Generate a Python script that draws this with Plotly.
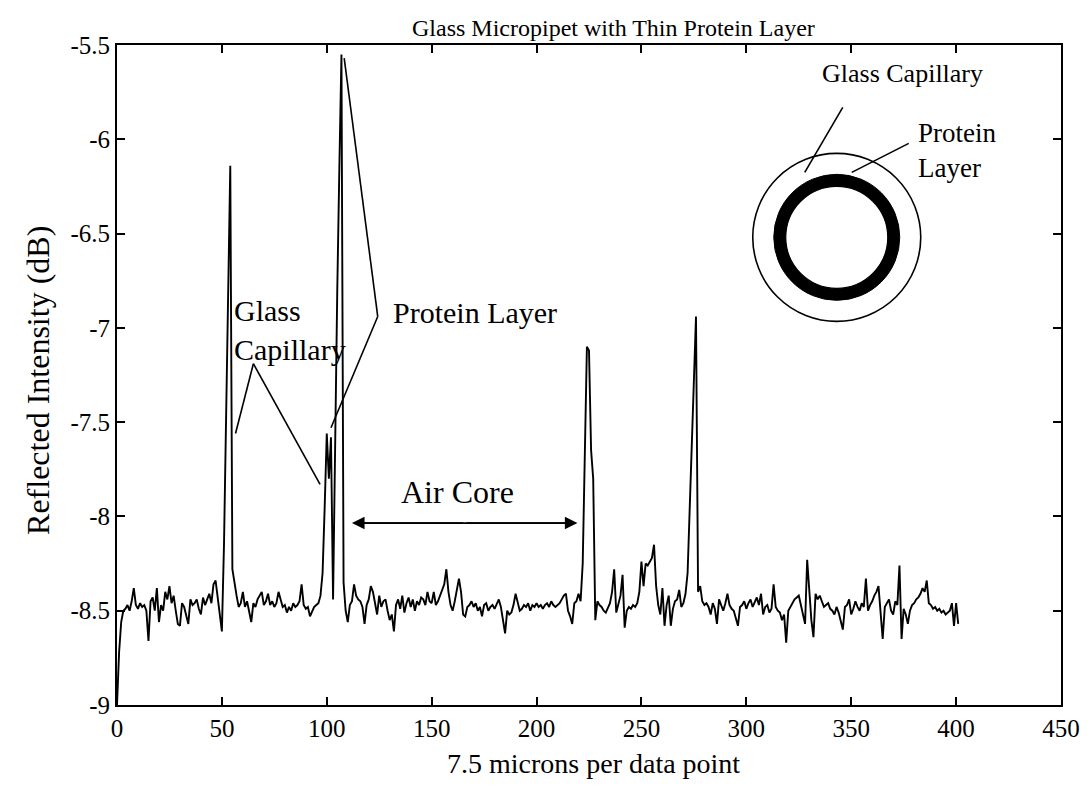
import plotly.graph_objects as go

# Reflected intensity (dB) for each data point (7.5 microns per point), index 0..401
intensity_db = [
    -9.00, -8.72, -8.56, -8.50, -8.49, -8.47, -8.50, -8.45, -8.38, -8.47,
    -8.49, -8.46, -8.48, -8.47, -8.50, -8.66, -8.45, -8.43, -8.50, -8.38,
    -8.56, -8.47, -8.50, -8.40, -8.44, -8.37, -8.46, -8.42, -8.50, -8.57,
    -8.58, -8.46, -8.48, -8.52, -8.57, -8.44, -8.47, -8.46, -8.44, -8.49,
    -8.52, -8.43, -8.47, -8.44, -8.41, -8.46, -8.36, -8.34, -8.43, -8.52,
    -8.61, -8.15, -7.45, -6.80, -6.14, -8.28, -8.36, -8.42, -8.48, -8.46,
    -8.40, -8.48, -8.45, -8.50, -8.56, -8.46, -8.48, -8.44, -8.42, -8.40,
    -8.47, -8.45, -8.41, -8.47, -8.45, -8.48, -8.46, -8.40, -8.44, -8.48,
    -8.47, -8.51, -8.48, -8.50, -8.46, -8.48, -8.47, -8.45, -8.36, -8.47,
    -8.49, -8.48, -8.53, -8.50, -8.48, -8.47, -8.46, -8.42, -8.30, -7.95,
    -7.56, -7.80, -7.58, -8.44, -7.50, -6.80, -6.15, -5.55, -8.35, -8.50,
    -8.56, -8.47, -8.45, -8.36, -8.42, -8.44, -8.45, -8.48, -8.57, -8.47,
    -8.44, -8.37, -8.40, -8.47, -8.52, -8.42, -8.48, -8.45, -8.44, -8.50,
    -8.55, -8.52, -8.61, -8.47, -8.44, -8.49, -8.42, -8.51, -8.46, -8.43,
    -8.48, -8.44, -8.50, -8.45, -8.47, -8.43, -8.44, -8.47, -8.40, -8.45,
    -8.46, -8.40, -8.47, -8.45, -8.42, -8.38, -8.36, -8.28, -8.40, -8.47,
    -8.50, -8.45, -8.38, -8.33, -8.40, -8.52, -8.53, -8.48, -8.47, -8.45,
    -8.48, -8.46, -8.50, -8.48, -8.53, -8.47, -8.46, -8.50, -8.48, -8.47,
    -8.49, -8.46, -8.44, -8.48, -8.55, -8.62, -8.50, -8.52, -8.51, -8.47,
    -8.41, -8.45, -8.50, -8.49, -8.47, -8.48, -8.46, -8.50, -8.47, -8.48,
    -8.46, -8.48, -8.47, -8.49, -8.47, -8.46, -8.48, -8.45, -8.47, -8.48,
    -8.47, -8.46, -8.44, -8.42, -8.41, -8.50, -8.53, -8.57, -8.46, -8.45,
    -8.41, -8.45, -8.25, -7.60, -7.10, -7.12, -7.65, -7.80, -8.55, -8.45,
    -8.47, -8.48, -8.50, -8.51, -8.48, -8.46, -8.40, -8.28, -8.51, -8.46,
    -8.42, -8.31, -8.59, -8.50, -8.48, -8.49, -8.47, -8.48, -8.46, -8.40,
    -8.24, -8.37, -8.25, -8.26, -8.24, -8.22, -8.15, -8.37, -8.47, -8.52,
    -8.38, -8.58, -8.47, -8.42, -8.58, -8.49, -8.45, -8.44, -8.39, -8.48,
    -8.46, -8.41, -8.30, -7.95, -7.60, -7.20, -6.94, -8.40, -8.37, -8.45,
    -8.47, -8.46, -8.48, -8.52, -8.46, -8.49, -8.57, -8.44, -8.47, -8.50,
    -8.46, -8.41, -8.47, -8.49, -8.50, -8.54, -8.58, -8.48, -8.47, -8.45,
    -8.49, -8.46, -8.44, -8.48, -8.45, -8.43, -8.47, -8.41, -8.52, -8.48,
    -8.47, -8.51, -8.49, -8.36, -8.48, -8.50, -8.51, -8.55, -8.52, -8.67,
    -8.50, -8.48, -8.46, -8.44, -8.43, -8.42, -8.47, -8.52, -8.57, -8.23,
    -8.40, -8.55, -8.64, -8.41, -8.44, -8.42, -8.45, -8.48, -8.47, -8.46,
    -8.49, -8.50, -8.52, -8.48, -8.51, -8.55, -8.60, -8.48, -8.47, -8.44,
    -8.52, -8.49, -8.45, -8.48, -8.50, -8.46, -8.48, -8.33, -8.50, -8.47,
    -8.45, -8.42, -8.40, -8.37, -8.50, -8.65, -8.48, -8.46, -8.44, -8.50,
    -8.52, -8.45, -8.47, -8.26, -8.65, -8.49, -8.52, -8.57, -8.50, -8.47,
    -8.46, -8.44, -8.43, -8.41, -8.38, -8.40, -8.34, -8.46, -8.47, -8.49,
    -8.48, -8.50, -8.49, -8.51, -8.50, -8.52, -8.51, -8.50, -8.46, -8.58,
    -8.46, -8.57,
]
data_point = list(range(len(intensity_db)))

x_tickvals = [0, 50, 100, 150, 200, 250, 300, 350, 400, 450]
y_tickvals = [-9, -8.5, -8, -7.5, -7, -6.5, -6, -5.5]
y_ticktext = ["-9", "-8.5", "-8", "-7.5", "-7", "-6.5", "-6", "-5.5"]

FONT = "Liberation Serif"

# Callout leader lines, in data units (point index, dB)
protein_leaders = [((124.3, -6.94), (108.3, -5.57)), ((124.3, -6.94), (102.0, -7.53))]
capillary_leaders = [((65.0, -7.19), (56.5, -7.56)), ((65.0, -7.19), (96.8, -7.83))]
air_core_span = (112.0, 219.5, -8.035)

# Cross-section sketch: centre in data units, radii and leader offsets in pixels
sketch_centre = (343.1, -6.52)
outer_radius_px = 84
layer_outer_px = 63
layer_inner_px = 51
sketch_leaders_px = [((6, 130), (-32, 65)), ((72, 94), (15, 65))]

fig = go.Figure()
fig.add_trace(go.Scatter(
    x=data_point, y=intensity_db, mode="lines",
    line=dict(color="black", width=1.9), hoverinfo="skip", showlegend=False,
))

line_style = dict(color="black", width=1.6)
shapes = []
for (p0, p1) in protein_leaders + capillary_leaders:
    shapes.append(dict(type="line", xref="x", yref="y", x0=p0[0], y0=p0[1],
                       x1=p1[0], y1=p1[1], line=line_style))

# Shaft of the air-core arrow
ax0, ax1, ay = air_core_span
shapes.append(dict(type="line", xref="x", yref="y", x0=ax0 + 3, x1=ax1 - 3,
                   y0=ay, y1=ay, line=dict(color="black", width=1.8)))

cx, cy = sketch_centre
def pixel_circle(r, fill, width):
    return dict(type="circle", xref="x", yref="y", xsizemode="pixel", ysizemode="pixel",
                xanchor=cx, yanchor=cy, x0=-r, x1=r, y0=-r, y1=r,
                fillcolor=fill, line=dict(color="black", width=width))

shapes.append(pixel_circle(outer_radius_px, "white", 1.6))
shapes.append(pixel_circle(layer_outer_px, "black", 1.0))
shapes.append(pixel_circle(layer_inner_px, "white", 1.2))
for (a, b) in sketch_leaders_px:
    shapes.append(dict(type="line", xref="x", yref="y", xsizemode="pixel", ysizemode="pixel",
                       xanchor=cx, yanchor=cy, x0=a[0], y0=a[1], x1=b[0], y1=b[1],
                       line=line_style))

def label(text, x, y, size, xref="x", yref="y", xanchor="left", **kw):
    return dict(text=text, x=x, y=y, xref=xref, yref=yref, xanchor=xanchor,
                yanchor="middle", align="left", showarrow=False,
                font=dict(family=FONT, size=size, color="black"), **kw)

annotations = [
    label("Glass Micropipet with Thin Protein Layer", 0.526, 1.026, 24,
          xref="paper", yref="paper", xanchor="center"),
    label("7.5 microns per data point", 0.505, -0.088, 28,
          xref="paper", yref="paper", xanchor="center"),
    label("Reflected Intensity (dB)", -0.083, 0.492, 32,
          xref="paper", yref="paper", xanchor="center", textangle=-90),
    label("Glass<br>Capillary", 54.6, -7.01, 30),
    label("Protein Layer", 130.5, -6.92, 30),
    label("Air Core", 134.3, -7.87, 32),
    label("Glass Capillary", 374.5, -5.65, 26, xanchor="center"),
    label("Protein<br>Layer", 381.1, -6.06, 27),
]

# Arrowheads at both ends of the air-core span
mid = (ax0 + ax1) / 2
for tip in (ax0, ax1):
    annotations.append(dict(x=tip, y=ay, ax=mid, ay=ay, xref="x", yref="y",
                            axref="x", ayref="y", text="", showarrow=True,
                            arrowhead=2, arrowsize=1.4, arrowwidth=1.8, arrowcolor="black"))

axis_common = dict(showline=True, linecolor="black", linewidth=2, mirror="ticks",
                   ticks="inside", ticklen=8, tickwidth=1.6, tickcolor="black",
                   showgrid=False, zeroline=False,
                   tickfont=dict(family=FONT, size=25, color="black"))

fig.update_layout(
    width=1092, height=788,
    margin=dict(l=117, r=26, t=45, b=83),
    paper_bgcolor="white", plot_bgcolor="white",
    shapes=shapes, annotations=annotations,
    xaxis=dict(range=[0, 450], tickvals=x_tickvals, **axis_common),
    yaxis=dict(range=[-9, -5.5], tickvals=y_tickvals, ticktext=y_ticktext, **axis_common),
)

fig.write_html("out.html")
